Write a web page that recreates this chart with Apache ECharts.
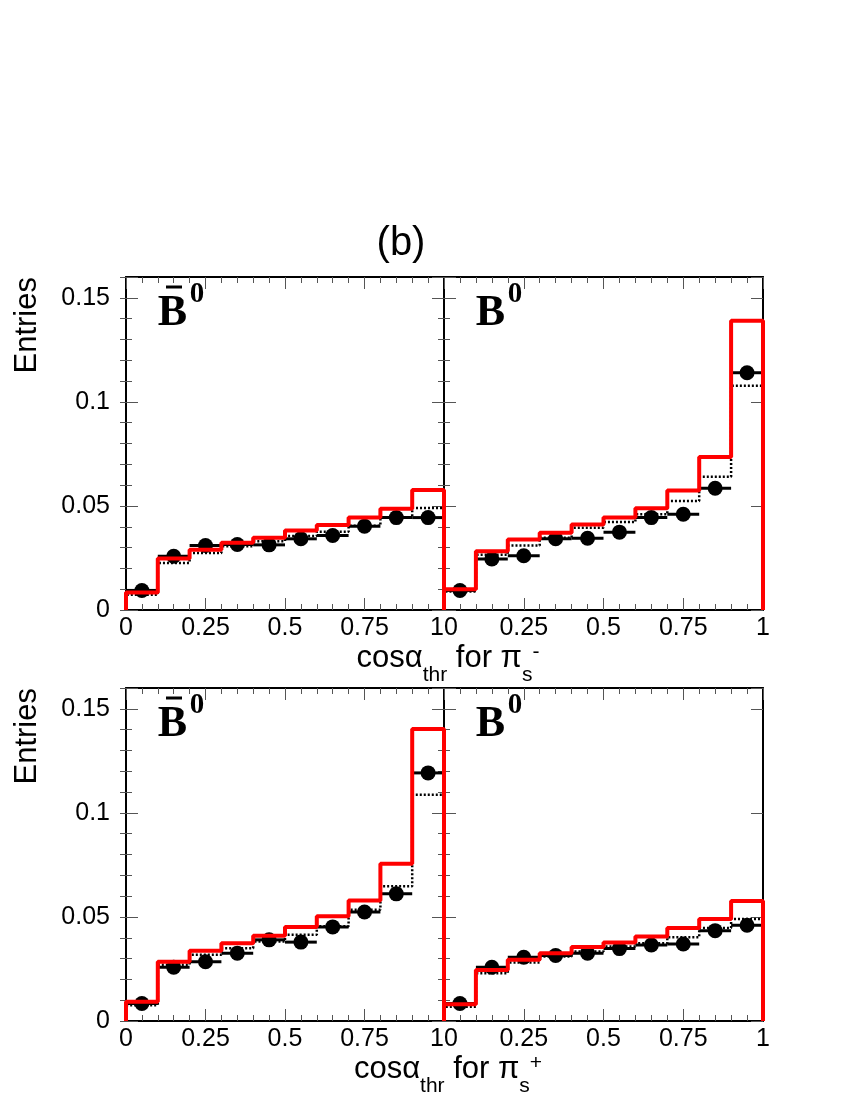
<!DOCTYPE html>
<html>
<head>
<meta charset="utf-8">
<script src="https://cdn.jsdelivr.net/npm/echarts@6/dist/echarts.min.js"></script>
<style>
  html, body { margin: 0; background: #fff; }
  #chart { width: 850px; height: 1100px; }
</style>
</head>
<body>
<div id="chart"></div>
<script>
// bin edges of cos(alpha_thr), 10 bins
const binEdges = [0, 0.1, 0.2, 0.3, 0.4, 0.5, 0.6, 0.7, 0.8, 0.9, 1.0];
const xTicks = [0, 0.25, 0.5, 0.75, 1];
const yTicks = [0, 0.05, 0.1, 0.15];

// top left: Bbar0, pi_s-
const redTL  = [0.0084, 0.0248, 0.0290, 0.0323, 0.0347, 0.0382, 0.0408, 0.0444, 0.0487, 0.0576];
const mcTL   = [0.0073, 0.0226, 0.0274, 0.0306, 0.0330, 0.0355, 0.0376, 0.0405, 0.0445, 0.0490];
const dataTL = [0.0094, 0.0258, 0.0310, 0.0315, 0.0313, 0.0342, 0.0358, 0.0403, 0.0444, 0.0444];
// top right: B0, pi_s-
const redTR  = [0.0100, 0.0282, 0.0339, 0.0371, 0.0411, 0.0444, 0.0489, 0.0574, 0.0735, 0.1390];
const mcTR   = [0.0089, 0.0266, 0.0310, 0.0347, 0.0395, 0.0423, 0.0460, 0.0524, 0.0640, 0.1077];
const dataTR = [0.0094, 0.0245, 0.0261, 0.0342, 0.0345, 0.0374, 0.0444, 0.0460, 0.0585, 0.1140];
// bottom left: Bbar0, pi_s+
const redBL  = [0.0092, 0.0285, 0.0337, 0.0374, 0.0410, 0.0452, 0.0503, 0.0579, 0.0756, 0.1403];
const mcBL   = [0.0076, 0.0270, 0.0318, 0.0350, 0.0382, 0.0415, 0.0455, 0.0535, 0.0648, 0.1087];
const dataBL = [0.0084, 0.0258, 0.0285, 0.0326, 0.0390, 0.0379, 0.0452, 0.0524, 0.0611, 0.1192];
// bottom right: B0, pi_s+
const redBR  = [0.0081, 0.0245, 0.0294, 0.0326, 0.0355, 0.0377, 0.0406, 0.0447, 0.0490, 0.0576];
const mcBR   = [0.0068, 0.0229, 0.0281, 0.0310, 0.0334, 0.0358, 0.0374, 0.0402, 0.0447, 0.0490];
const dataBR = [0.0084, 0.0258, 0.0306, 0.0315, 0.0326, 0.0348, 0.0365, 0.0370, 0.0434, 0.0460];

const panels = [
  { red: redTL, mc: mcTL, data: dataTL, bar: true,  left: 126, top: 277, width: 318, side: 'l' },
  { red: redTR, mc: mcTR, data: dataTR, bar: false, left: 444, top: 277, width: 319, side: 'r' },
  { red: redBL, mc: mcBL, data: dataBL, bar: true,  left: 126, top: 688, width: 318, side: 'l' },
  { red: redBR, mc: mcBR, data: dataBR, bar: false, left: 444, top: 688, width: 319, side: 'r' }
];
const panelH = 333;
const sans = '"Liberation Sans", Arial, Helvetica, sans-serif';
const serif = '"Liberation Serif", "Times New Roman", serif';
const tickColor = '#555';

// histogram outline from bin contents
function steps(vals) {
  const pts = [[binEdges[0], 0]];
  vals.forEach((v, i) => {
    pts.push([binEdges[i], v]);
    pts.push([binEdges[i + 1], v]);
  });
  pts.push([binEdges[binEdges.length - 1], 0]);
  return pts;
}

function onList(list, v) {
  return list.some(t => Math.abs(t - v) < 1e-6);
}

const grid = [], xAxis = [], yAxis = [], series = [];
const labelRich = {
  h: { fontSize: 25, fontFamily: sans, color: 'rgba(0,0,0,0)' },
  n: { fontSize: 25, fontFamily: sans, color: '#000' }
};

panels.forEach((p, i) => {
  grid.push({ left: p.left, top: p.top, width: p.width, height: panelH, containLabel: false, outerBoundsMode: 'none' });

  const xBase = {
    type: 'value', gridIndex: i, min: 0, max: 1, interval: 0.25,
    axisLine: { show: true, onZero: false, lineStyle: { color: '#000', width: 2 } },
    axisTick: { show: true, inside: true, length: 12, lineStyle: { color: tickColor, width: 1 } },
    minorTick: { show: true, splitNumber: 5, length: 6, lineStyle: { color: tickColor, width: 1 } },
    splitLine: { show: false }
  };
  xAxis.push(Object.assign({}, xBase, {
    position: 'bottom',
    axisLabel: {
      show: true, margin: 6, fontSize: 25, color: '#000', fontFamily: sans,
      // an invisible extra digit pushes the "1" (left pad) and the "0" (right pad) apart
      formatter: v => {
        if (!onList(xTicks, v)) return '';
        const s = String(Math.round(v * 100) / 100);
        if (p.side === 'l' && v > 0.99) return '{n|' + s + '}{h|0}';
        if (p.side === 'r' && v < 0.01) return '{h|0}{n|' + s + '}';
        return '{n|' + s + '}';
      },
      rich: labelRich
    }
  }));
  xAxis.push(Object.assign({}, xBase, { position: 'top', axisLabel: { show: false } }));

  const yMajor = {
    type: 'value', gridIndex: i, min: 0, max: 0.16, interval: 0.05,
    axisLine: { show: true, onZero: false, lineStyle: { color: '#000', width: 2 } },
    axisTick: { show: true, inside: true, length: 12, lineStyle: { color: tickColor, width: 1 } },
    splitLine: { show: false }
  };
  const yMinor = {
    type: 'value', gridIndex: i, min: 0, max: 0.16, interval: 0.01,
    axisLine: { show: false },
    axisTick: { show: true, inside: true, length: 6, lineStyle: { color: tickColor, width: 1 } },
    axisLabel: { show: false },
    splitLine: { show: false }
  };
  yAxis.push(Object.assign({}, yMajor, {
    position: 'left',
    axisLabel: {
      show: p.side === 'l', margin: 16, fontSize: 25, color: '#000', fontFamily: sans,
      formatter: v => onList(yTicks, v) ? String(v) : ''
    }
  }));
  yAxis.push(Object.assign({}, yMinor, { position: 'left' }));
  yAxis.push(Object.assign({}, yMajor, { position: 'right', axisLabel: { show: false } }));
  yAxis.push(Object.assign({}, yMinor, { position: 'right' }));

  const xi = 2 * i, yi = 4 * i;

  series.push({
    type: 'line', xAxisIndex: xi, yAxisIndex: yi, data: steps(p.mc),
    symbol: 'none', z: 2, animation: false,
    lineStyle: { color: '#000', width: 2.5, type: [2, 2] }
  });
  series.push({
    type: 'custom', xAxisIndex: xi, yAxisIndex: yi, z: 3, animation: false,
    data: p.data.map((v, k) => [binEdges[k], binEdges[k + 1], v]),
    encode: { x: [0, 1], y: 2 },
    renderItem: (params, api) => {
      const a = api.coord([api.value(0), api.value(2)]);
      const b = api.coord([api.value(1), api.value(2)]);
      return {
        type: 'line',
        shape: { x1: a[0], y1: a[1], x2: b[0], y2: b[1] },
        style: { stroke: '#000', lineWidth: 3 }
      };
    }
  });
  series.push({
    type: 'scatter', xAxisIndex: xi, yAxisIndex: yi, z: 4, animation: false,
    data: p.data.map((v, k) => [(binEdges[k] + binEdges[k + 1]) / 2, v]),
    symbol: 'circle', symbolSize: 15, itemStyle: { color: '#000', opacity: 1 }
  });
  series.push({
    type: 'line', xAxisIndex: xi, yAxisIndex: yi, data: steps(p.red),
    symbol: 'none', z: 5, animation: false,
    lineStyle: { color: '#ff0000', width: 4 }
  });
});

// text pieces: title, y titles, B labels, x titles
const graphic = [];
graphic.push({
  type: 'text', x: 401, y: 244,
  style: { text: '(b)', fontSize: 40, fontFamily: sans, fill: '#000', align: 'center', verticalAlign: 'middle' }
});
[277, 688].forEach(t => {
  graphic.push({
    type: 'text', x: 27, y: t, rotation: Math.PI / 2,
    style: { text: 'Entries', fontSize: 31, fontFamily: sans, fill: '#000', align: 'right', verticalAlign: 'middle' }
  });
});
panels.forEach(p => {
  graphic.push({
    type: 'text', x: p.left + 46.5, y: p.top + 37,
    style: { text: 'B', fontSize: 44, fontWeight: 'bold', fontFamily: serif, fill: '#000', align: 'center', verticalAlign: 'middle' }
  });
  graphic.push({
    type: 'text', x: p.left + 71, y: p.top + 18,
    style: { text: '0', fontSize: 29, fontWeight: 'bold', fontFamily: serif, fill: '#000', align: 'center', verticalAlign: 'middle' }
  });
  if (p.bar) {
    graphic.push({
      type: 'line', shape: { x1: p.left + 40, y1: p.top + 10, x2: p.left + 56, y2: p.top + 10 },
      style: { stroke: '#000', lineWidth: 3 }
    });
  }
});

const measure = document.createElement('canvas').getContext('2d');
function xTitle(cx, baseline, sign) {
  const big = 31, small = 21;
  const parts = [
    { t: 'cosα', s: big, dy: 0 },
    { t: 'thr', s: small, dy: 14 },
    { t: ' for π', s: big, dy: 0 },
    { t: 's', s: small, dy: 14 },
    { t: sign, s: small, dy: -9 }
  ];
  let total = 0;
  parts.forEach(q => {
    measure.font = q.s + 'px ' + sans;
    q.w = measure.measureText(q.t).width;
    total += q.w;
  });
  let x = cx - total / 2;
  parts.forEach(q => {
    graphic.push({
      type: 'text', x: x, y: baseline + q.dy - 0.35 * q.s,
      style: { text: q.t, fontSize: q.s, fontFamily: sans, fill: '#000', align: 'left', verticalAlign: 'middle' }
    });
    x += q.w;
  });
}
xTitle(448, 669, '-');
xTitle(448, 1080, '+');

const chart = echarts.init(document.getElementById('chart'), null, { renderer: 'canvas' });
chart.setOption({
  backgroundColor: '#fff',
  animation: false,
  grid: grid,
  xAxis: xAxis,
  yAxis: yAxis,
  series: series,
  graphic: graphic
});
</script>
</body>
</html>
